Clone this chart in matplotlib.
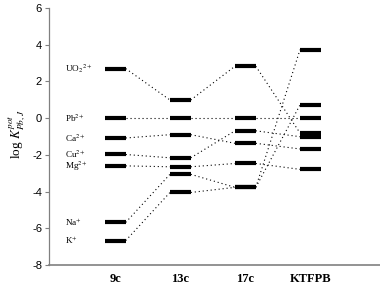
import matplotlib
matplotlib.use("Agg")
import matplotlib.pyplot as plt

plt.rcParams['mathtext.fontset'] = 'stix'

columns = ['9c', '13c', '17c', 'KTFPB']
ion_labels = ['UO$_2$$^{2+}$', 'Pb$^{2+}$', 'Ca$^{2+}$', 'Cu$^{2+}$', 'Mg$^{2+}$', 'Na$^{+}$', 'K$^{+}$']

UO2 = [2.70, 0.99, 2.83, -0.81]
Pb = [0.0, 0.0, 0.0, 0.0]
Ca = [-1.08, -0.90, -1.37, -1.68]
Cu = [-1.98, -2.16, -0.69, -1.01]
Mg = [-2.60, -2.65, -2.47, -2.79]
Na = [-5.68, -3.06, -3.77, 0.72]
K = [-6.67, -4.05, -3.77, 3.73]
series = [UO2, Pb, Ca, Cu, Mg, Na, K]

yticks = [-8, -6, -4, -2, 0, 2, 4, 6]

fig = plt.figure(figsize=(3.8, 2.88), dpi=100)
ax = fig.add_axes([0.129, 0.080, 0.871, 0.892])

hw = 0.16
xs = list(range(len(columns)))
for vals in series:
    for i, v in enumerate(vals):
        ax.plot([xs[i] - hw, xs[i] + hw], [v, v], color='black', lw=3.0,
                solid_capstyle='butt', zorder=3)
    for i in range(len(vals) - 1):
        ax.plot([xs[i] + hw, xs[i + 1] - hw], [vals[i], vals[i + 1]],
                color='black', lw=0.8, linestyle=(0, (1, 2.6)), zorder=2)

for lab, vals in zip(ion_labels, series):
    ax.text(-0.78, vals[0], lab, ha='left', va='center', fontsize=6.6,
            family='Liberation Serif')

ax.set_xlim(-1.02, 4.07)
ax.set_ylim(-8, 6)
ax.set_yticks(yticks)
ax.set_yticklabels([str(t) for t in yticks], family='Liberation Sans', fontsize=8)
ax.set_xticks(xs)
ax.set_xticklabels(columns, family='Liberation Serif', fontweight='bold', fontsize=9)
ax.tick_params(axis='x', length=0, pad=6)
ax.tick_params(axis='y', length=3, width=0.8, color='#808080', pad=2)

for s in ['top', 'right']:
    ax.spines[s].set_visible(False)
ax.spines['left'].set_color('#808080')
ax.spines['bottom'].set_color('#808080')
ax.spines['left'].set_linewidth(0.9)
ax.spines['bottom'].set_linewidth(1.2)

ax.set_ylabel(r'log $K^{pot}_{Pb,J}$', fontsize=9.5, family='Liberation Serif')
ax.yaxis.set_label_coords(-0.065, 0.51)

fig.savefig('out.png', dpi=100)
